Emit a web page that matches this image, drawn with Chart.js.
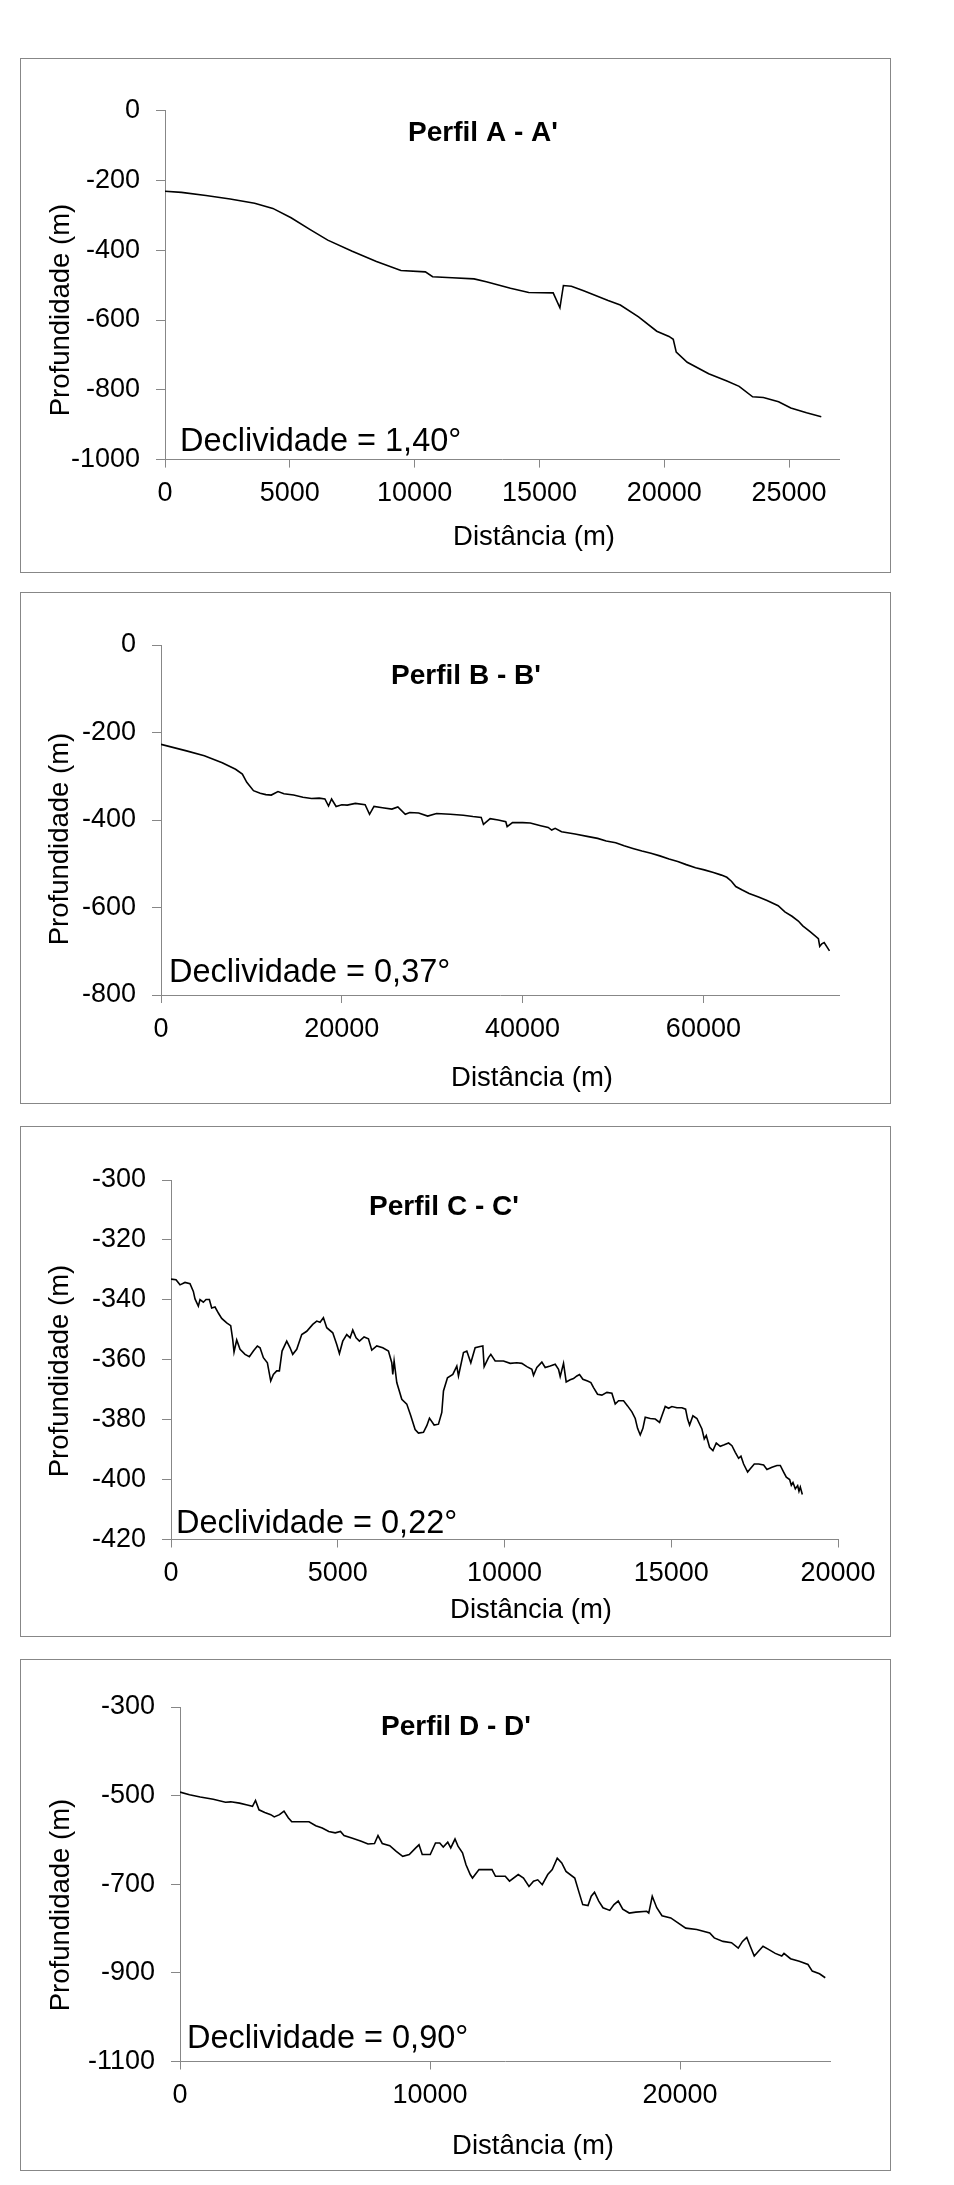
<!DOCTYPE html>
<html>
<head>
<meta charset="utf-8">
<script src="https://cdn.jsdelivr.net/npm/chart.js@4.4.1/dist/chart.umd.min.js"></script>
<style>
html,body{margin:0;padding:0;background:#fff;}
body{width:954px;height:2185px;position:relative;overflow:hidden;}
.panel{position:absolute;left:20px;width:871px;box-sizing:border-box;border:1px solid #878787;background:#fff;}
.panel canvas{position:absolute;left:0;top:0;}
</style>
</head>
<body>
<script>
// ---------- DATA ----------
const yAxisTitle = 'Profundidade (m)';
const xAxisTitle = 'Distância (m)';
const panelTitles = ["Perfil A - A'", "Perfil B - B'", "Perfil C - C'", "Perfil D - D'"];
const slopeLabels = ['Declividade = 1,40°', 'Declividade = 0,37°', 'Declividade = 0,22°', 'Declividade = 0,90°'];

// tick values
const xTicksA = [0, 5000, 10000, 15000, 20000, 25000];
const yTicksA = [0, -200, -400, -600, -800, -1000];
const xTicksB = [0, 20000, 40000, 60000];
const yTicksB = [0, -200, -400, -600, -800];
const xTicksC = [0, 5000, 10000, 15000, 20000];
const yTicksC = [-300, -320, -340, -360, -380, -400, -420];
const xTicksD = [0, 10000, 20000];
const yTicksD = [-300, -500, -700, -900, -1100];

// axis ranges
const xRangeA = [0, 27000], yRangeA = [-1000, 0];
const xRangeB = [0, 75000], yRangeB = [-800, 0];
const xRangeC = [0, 20000], yRangeC = [-420, -300];
const xRangeD = [0, 26000], yRangeD = [-1100, -300];

// profiles: distance (m) and depth (m)
const distA = [0,660,1640,2610,3590,4320,5050,5800,6520,7500,8470,9450,10430,10720,11500,12380,12870,13840,14570,15550,15820,15960,16280,16770,17750,18240,18970,19700,20190,20360,20480,20920,21780,22510,23000,23540,23970,24580,25070,25700,26290];
const depthA = [-231,-234,-243,-253,-265,-280,-307,-340,-371,-403,-432,-458,-462,-476,-479,-482,-490,-509,-521,-522,-565,-501,-503,-516,-544,-557,-591,-632,-647,-655,-692,-721,-754,-775,-790,-820,-822,-834,-852,-866,-877];

const distB = [0,2820,4790,6770,8250,9000,9490,10230,10970,11600,12200,12940,13600,14670,15700,16650,17500,18130,18530,18870,19370,20000,20600,21500,22580,23070,23560,24500,25540,26200,27020,27520,28500,29500,30480,32000,33440,34500,35420,35670,36410,37300,38140,38290,38880,40000,40850,42000,42830,43220,43600,44310,45800,47280,48300,49250,50300,51230,52200,53200,54200,55180,56200,57160,58100,59130,60100,61110,62000,62590,63100,63580,64300,65060,66100,67040,68270,69010,69800,70500,70990,71800,72720,72870,73100,73360,73950];
const depthB = [-227,-242,-253,-269,-284,-295,-314,-333,-339,-342,-343,-335,-340,-343,-348,-351,-350,-352,-368,-352,-369,-365,-366,-362,-365,-387,-369,-372,-375,-370,-387,-383,-384,-391,-385,-387,-389,-392,-394,-410,-397,-400,-404,-415,-406,-406,-407,-413,-417,-423,-419,-427,-432,-438,-442,-448,-452,-459,-465,-471,-476,-482,-489,-495,-502,-509,-514,-520,-526,-531,-540,-552,-560,-568,-576,-584,-596,-610,-620,-631,-642,-655,-671,-689,-683,-680,-699];

const distC = [0,150,270,420,570,670,720,820,870,970,1050,1150,1220,1320,1420,1520,1670,1790,1850,1890,1970,2070,2220,2350,2470,2590,2670,2770,2890,2990,3070,3170,3250,3330,3470,3570,3650,3770,3920,4070,4250,4370,4470,4570,4670,4850,4970,5050,5150,5270,5370,5450,5550,5650,5790,5920,6020,6170,6350,6520,6620,6650,6690,6770,6920,7070,7190,7320,7420,7570,7670,7750,7890,8020,8120,8170,8290,8450,8570,8620,8770,8870,8990,9120,9270,9350,9390,9520,9590,9720,9970,10170,10370,10520,10670,10820,10870,10970,11120,11220,11370,11520,11620,11670,11770,11850,11970,12070,12170,12250,12350,12490,12590,12670,12790,12920,13070,13220,13320,13420,13570,13690,13820,13920,13990,14070,14150,14220,14370,14520,14650,14720,14820,14920,15020,15170,15320,15430,15490,15550,15650,15770,15920,15990,16050,16150,16250,16350,16470,16590,16720,16820,16920,17020,17090,17170,17290,17370,17490,17620,17770,17870,18020,18170,18270,18370,18450,18550,18600,18650,18720,18790,18830,18870,18930];
const depthC = [-333.1,-333.3,-335,-334.2,-334.6,-337.2,-339.7,-342.1,-339.9,-340.8,-339.9,-339.9,-342.7,-342.4,-344.4,-346.2,-347.7,-348.6,-353.2,-357.4,-353.4,-356.5,-358.2,-359,-357.1,-355.4,-356,-359.3,-361,-367.1,-364.9,-363.7,-363.7,-357.1,-353.8,-356,-358.2,-356.5,-351.6,-350.5,-348.2,-347.1,-347.5,-346,-349.3,-351,-354.9,-357.9,-353.8,-351.6,-352.7,-350.1,-352.7,-353.8,-352.4,-353,-356.8,-355.4,-356,-357.1,-361,-364.9,-360.4,-367.6,-373.2,-374.8,-378.7,-383.3,-384.5,-384.2,-382,-379.5,-381.8,-381.5,-377.6,-370.4,-366,-364.9,-362.1,-365.4,-357.6,-357.1,-361,-356,-355.6,-355.4,-362.3,-359.3,-358.2,-360.4,-360.4,-361.2,-361,-361.2,-362.3,-363.2,-365.2,-362.6,-360.8,-362.6,-362.1,-361.5,-363.2,-365.6,-361.2,-367.4,-366.7,-366.3,-365.4,-364.9,-366.5,-367.1,-367.6,-369.3,-371.5,-371.8,-370.9,-371.2,-374.8,-373.7,-373.7,-375.4,-377.4,-379.6,-382.9,-385.1,-382.9,-379.2,-379.6,-379.8,-380.9,-378.7,-375.6,-376.2,-375.6,-376,-376,-376.5,-379.8,-381.8,-378.7,-379.6,-383.1,-386.4,-385.3,-389.2,-390.3,-387.8,-388.9,-388.4,-387.8,-388.7,-390.9,-392.9,-392.2,-394.8,-397.5,-396.4,-394.8,-394.8,-395.1,-396.6,-395.9,-395.3,-395.3,-397.5,-399.2,-400,-401.9,-401,-403.1,-402,-403.9,-402.5,-405];

const distD = [0,380,810,1330,1820,2030,2380,2690,2900,3020,3160,3390,3630,3770,3980,4160,4330,4470,4820,5160,5430,5690,5950,6210,6420,6560,6900,7250,7520,7780,7920,8090,8390,8650,8910,9170,9430,9560,9690,10010,10220,10390,10530,10710,10830,11000,11120,11300,11440,11610,11700,11960,12480,12620,13010,13180,13530,13740,13960,14140,14310,14490,14710,14890,15090,15270,15440,15790,15970,16110,16320,16450,16580,16750,16920,17190,17360,17530,17710,17970,18230,18670,18750,18890,19070,19280,19630,19890,20230,20670,21190,21370,21720,22060,22330,22500,22670,22810,22970,23140,23320,23540,23810,24070,24160,24420,24770,25120,25290,25580,25810];
const depthD = [-492,-498,-503,-508,-515,-514,-517,-521,-524,-511,-532,-538,-543,-548,-543,-535,-550,-559,-559,-559,-568,-573,-581,-584,-581,-590,-596,-603,-609,-608,-590,-608,-613,-626,-637,-633,-618,-611,-633,-633,-607,-607,-616,-605,-618,-598,-614,-629,-656,-678,-686,-667,-667,-682,-682,-693,-678,-686,-705,-693,-690,-701,-678,-667,-641,-652,-671,-686,-720,-746,-748,-727,-718,-738,-753,-759,-746,-738,-756,-765,-763,-761,-765,-727,-753,-771,-776,-786,-799,-802,-810,-821,-829,-832,-844,-829,-820,-840,-862,-851,-840,-847,-856,-862,-856,-868,-874,-881,-896,-902,-911];

// ---------- LAYOUT (page pixels) ----------
const FONT = '"Liberation Sans", Arial, Helvetica, sans-serif';
const GRAY = '#878787';
const panels = [
  {top:58,   h:515, dist:distA, depth:depthA, xr:xRangeA, yr:yRangeA, xt:xTicksA, yt:yTicksA,
   plot:{l:165, r:839, t:110.7, b:459.6}, tx:483, ty:133, dx:180, dy:451, ytx:61, yty:310, xtx:534, xty:537},
  {top:592,  h:512, dist:distB, depth:depthB, xr:xRangeB, yr:yRangeB, xt:xTicksB, yt:yTicksB,
   plot:{l:161, r:839, t:645, b:995}, tx:466, ty:676, dx:169, dy:982, ytx:60, yty:839, xtx:532, xty:1078},
  {top:1126, h:511, dist:distC, depth:depthC, xr:xRangeC, yr:yRangeC, xt:xTicksC, yt:yTicksC,
   plot:{l:171, r:838, t:1180, b:1539.5}, tx:444, ty:1207, dx:176, dy:1533, ytx:60, yty:1371, xtx:531, xty:1610},
  {top:1659, h:512, dist:distD, depth:depthD, xr:xRangeD, yr:yRangeD, xt:xTicksD, yt:yTicksD,
   plot:{l:180, r:830, t:1707, b:2061.5}, tx:456, ty:1727, dx:187, dy:2048, ytx:61, yty:1905, xtx:533, xty:2146}
];

Chart.defaults.font.family = FONT;

panels.forEach((p, idx) => {
  const div = document.createElement('div');
  div.className = 'panel';
  div.style.top = p.top + 'px';
  div.style.height = p.h + 'px';
  const cv = document.createElement('canvas');
  const W = 869, H = p.h - 2;
  cv.width = W; cv.height = H;
  cv.style.width = W + 'px'; cv.style.height = H + 'px';
  div.appendChild(cv);
  document.body.appendChild(div);
  const ox = 21, oy = p.top + 1;

  const textPlugin = {
    id: 'panelText' + idx,
    afterDraw(chart) {
      const c = chart.ctx;
      c.save();
      c.fillStyle = '#000';
      c.font = 'bold 28px ' + FONT;
      c.textAlign = 'center'; c.textBaseline = 'middle';
      c.fillText(panelTitles[idx], p.tx - ox, p.ty - oy);
      c.font = '32.5px ' + FONT;
      c.textAlign = 'left'; c.textBaseline = 'alphabetic';
      c.fillText(slopeLabels[idx], p.dx - ox, p.dy - oy);
      c.font = '27.5px ' + FONT;
      c.textAlign = 'center'; c.textBaseline = 'middle';
      c.fillText(xAxisTitle, p.xtx - ox, p.xty - oy);
      c.translate(p.ytx - ox, p.yty - oy);
      c.rotate(-Math.PI / 2);
      c.fillText(yAxisTitle, 0, 0);
      c.restore();
    }
  };

  const tickFont = {family: FONT, size: 27};

  new Chart(cv, {
    type: 'line',
    data: {
      datasets: [{
        data: p.dist.map((d, i) => ({x: d, y: p.depth[i]})),
        borderColor: '#000',
        borderWidth: 1.6,
        pointRadius: 0,
        tension: 0,
        fill: false
      }]
    },
    options: {
      responsive: false,
      animation: false,
      devicePixelRatio: 1,
      events: [],
      layout: { padding: { left: 0, bottom: 0, top: p.plot.t - oy, right: W - (p.plot.r - ox) } },
      plugins: { legend: {display: false}, tooltip: {enabled: false}, title: {display: false} },
      scales: {
        x: {
          type: 'linear', min: p.xr[0], max: p.xr[1],
          afterBuildTicks(s) { s.ticks = p.xt.map(v => ({value: v})); },
          afterFit(s) { s.height = H - (p.plot.b - oy); },
          ticks: { autoSkip: false, maxRotation: 0, minRotation: 0,
                   padding: 10, color: '#000', font: tickFont, callback: v => String(v) },
          grid: { display: true, drawOnChartArea: false, drawTicks: true, tickLength: 8, color: GRAY, lineWidth: 1 },
          border: { display: true, color: GRAY, width: 1 },
          title: { display: false }
        },
        y: {
          type: 'linear', min: p.yr[0], max: p.yr[1],
          afterBuildTicks(s) { s.ticks = p.yt.map(v => ({value: v})); },
          afterFit(s) { s.width = p.plot.l - ox; },
          ticks: { autoSkip: false, padding: 16, color: '#000', font: tickFont, callback: v => String(v) },
          grid: { display: true, drawOnChartArea: false, drawTicks: true, tickLength: 9, color: GRAY, lineWidth: 1 },
          border: { display: true, color: GRAY, width: 1 },
          title: { display: false }
        }
      }
    },
    plugins: [textPlugin]
  });
});
</script>
</body>
</html>
